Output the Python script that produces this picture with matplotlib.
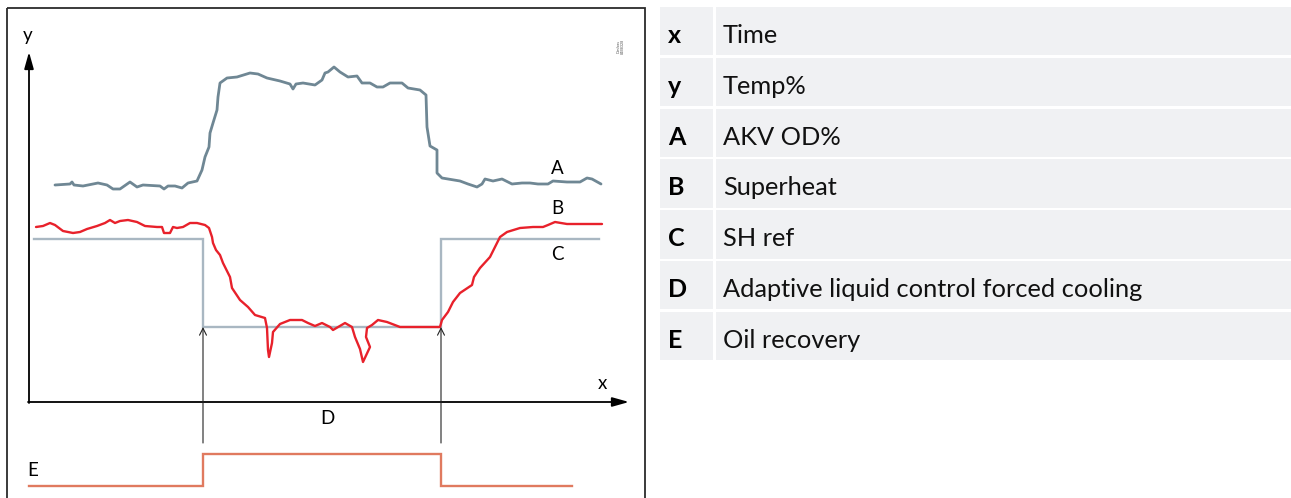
import matplotlib
matplotlib.use('Agg')
import matplotlib.pyplot as plt
from matplotlib.patches import Rectangle

# ---------------- data (time units, level units) ----------------
a_time = [26, 41, 43, 45, 54, 69, 78, 84, 91, 101, 108, 114, 131, 135, 139, 146, 153, 159, 168,
          173, 176, 180, 181, 184, 188, 189, 191, 198, 208, 221, 229, 238, 251, 261, 264, 267,
          274, 286, 293, 296, 299, 305, 311, 319, 328, 333, 341, 348, 354, 361, 373, 379, 391,
          397, 398, 401, 408, 408, 413, 431, 439, 448, 453, 456, 464, 473, 483, 493, 501, 509,
          519, 524, 538, 551, 558, 563, 572]
a_level = [217, 218, 220, 217, 216, 219, 217, 213, 213, 220, 215, 217, 216, 213, 216, 216, 214,
           219, 221, 232, 245, 255, 269, 279, 292, 305, 319, 324, 325, 329, 328, 324, 321, 318,
           313, 318, 319, 317, 322, 329, 330, 335, 330, 325, 326, 319, 319, 315, 315, 319, 319,
           314, 312, 307, 275, 256, 252, 229, 224, 221, 218, 215, 218, 223, 221, 223, 218, 219,
           219, 218, 218, 221, 220, 220, 224, 223, 218]

b_time = [7, 14, 21, 26, 34, 44, 51, 58, 68, 76, 81, 86, 91, 99, 108, 116, 128, 133, 135, 141,
          144, 148, 154, 161, 168, 176, 180, 183, 184, 187, 191, 194, 201, 203, 211, 219, 226,
          236, 238, 239, 240, 243, 244, 251, 261, 273, 279, 286, 293, 301, 304, 316, 323, 326,
          331, 334, 341, 337, 338, 343, 349, 358, 371, 411, 413, 419, 424, 431, 443, 445, 451,
          461, 467, 471, 478, 491, 504, 514, 519, 526, 538, 558, 573]
b_level = [175, 176, 179, 177, 171, 169, 170, 173, 176, 179, 182, 179, 181, 182, 180, 176, 175,
           175, 169, 169, 175, 174, 175, 179, 179, 177, 174, 165, 159, 152, 147, 139, 125, 114,
           102, 95, 87, 84, 74, 52, 45, 59, 70, 78, 82, 82, 79, 76, 79, 75, 72, 79, 75, 65, 53,
           40, 55, 65, 74, 77, 82, 80, 75, 75, 82, 90, 100, 109, 117, 125, 134, 145, 157, 165,
           170, 174, 175, 175, 177, 180, 178, 178, 178]

c_time = [5, 174, 174, 412, 412, 570]
c_level = [163, 163, 75, 75, 163, 163]

e_time = [0, 174, 174, 412, 412, 543]
e_level = [-84, -84, -52, -52, -84, -84]

event_times = [174, 412]
event_base, event_top = -41, 75

legend_keys = ['x', 'y', 'A', 'B', 'C', 'D', 'E']
legend_desc = ['Time', 'Temp%', 'AKV OD%', 'Superheat', 'SH ref',
               'Adaptive liquid control forced cooling', 'Oil recovery']

# ---------------- figure ----------------
FONT = 'Lato'
W, H = 1291, 498
fig = plt.figure(figsize=(W / 100, H / 100), dpi=100)

ov = fig.add_axes([0, 0, 1, 1])
ov.set_xlim(0, W)
ov.set_ylim(H, 0)
ov.axis('off')

ax = fig.add_axes([0, 0, 650 / W, 1])
ax.set_xlim(-29, 621)
ax.set_ylim(-96, 402)
ax.axis('off')

# panel border
ov.add_patch(Rectangle((7, 8), 638, 520, fill=False, lw=1.3, edgecolor='#2b2b2b', clip_on=False))

# curves
ax.plot(c_time, c_level, color='#a9b7c2', lw=1.7, solid_joinstyle='miter')
ax.plot(a_time, a_level, color='#6f8794', lw=2.0, solid_joinstyle='round', solid_capstyle='round')
ax.plot(b_time, b_level, color='#e8212b', lw=1.7, solid_joinstyle='round', solid_capstyle='round')
ax.plot(e_time, e_level, color='#e07a5f', lw=1.7, solid_joinstyle='miter')

# axes arrows
ax.annotate('', xy=(0, 350), xytext=(0, -1),
            arrowprops=dict(arrowstyle='-|>,head_length=1.0,head_width=0.28', lw=1.3,
                            color='black', shrinkA=0, shrinkB=0))
ax.annotate('', xy=(600, 0), xytext=(-1, 0),
            arrowprops=dict(arrowstyle='-|>,head_length=1.0,head_width=0.28', lw=1.3,
                            color='black', shrinkA=0, shrinkB=0))
for t in event_times:
    ax.annotate('', xy=(t, event_top), xytext=(t, event_base),
                arrowprops=dict(arrowstyle='->,head_length=0.5,head_width=0.25', lw=0.8,
                                color='#222222', shrinkA=0, shrinkB=0))

lab = dict(fontsize=13.5, family=FONT, color='black', ha='center', va='center')
ax.text(-1, 367, 'y', **lab)
ax.text(573, 19, 'x', **lab)
ax.text(528, 234, 'A', **lab)
ax.text(528, 194, 'B', **lab)
ax.text(528, 148, 'C', **lab)
ax.text(298, -16, 'D', **lab)
ax.text(4, -68, 'E', **lab)

ax.text(590, 356, 'Danfoss', fontsize=2.6, rotation=90, ha='center', va='center',
        color='#555555', family=FONT)
ax.text(594, 356, '84B8328', fontsize=2.6, rotation=90, ha='center', va='center',
        color='#555555', family=FONT)

# legend table
for i, (k, d) in enumerate(zip(legend_keys, legend_desc)):
    top = 7 + i * 50.8
    ov.add_patch(Rectangle((660, top), 53, 48.3, color='#f0f1f3', lw=0))
    ov.add_patch(Rectangle((716, top), W - 716, 48.3, color='#f0f1f3', lw=0))
    ov.text(668, top + 36, k, fontsize=18, fontweight='bold', family=FONT,
            ha='left', va='baseline', color='black')
    ov.text(723, top + 36, d, fontsize=18.3, family=FONT,
            ha='left', va='baseline', color='#111111')

fig.savefig('out.png', dpi=100)
